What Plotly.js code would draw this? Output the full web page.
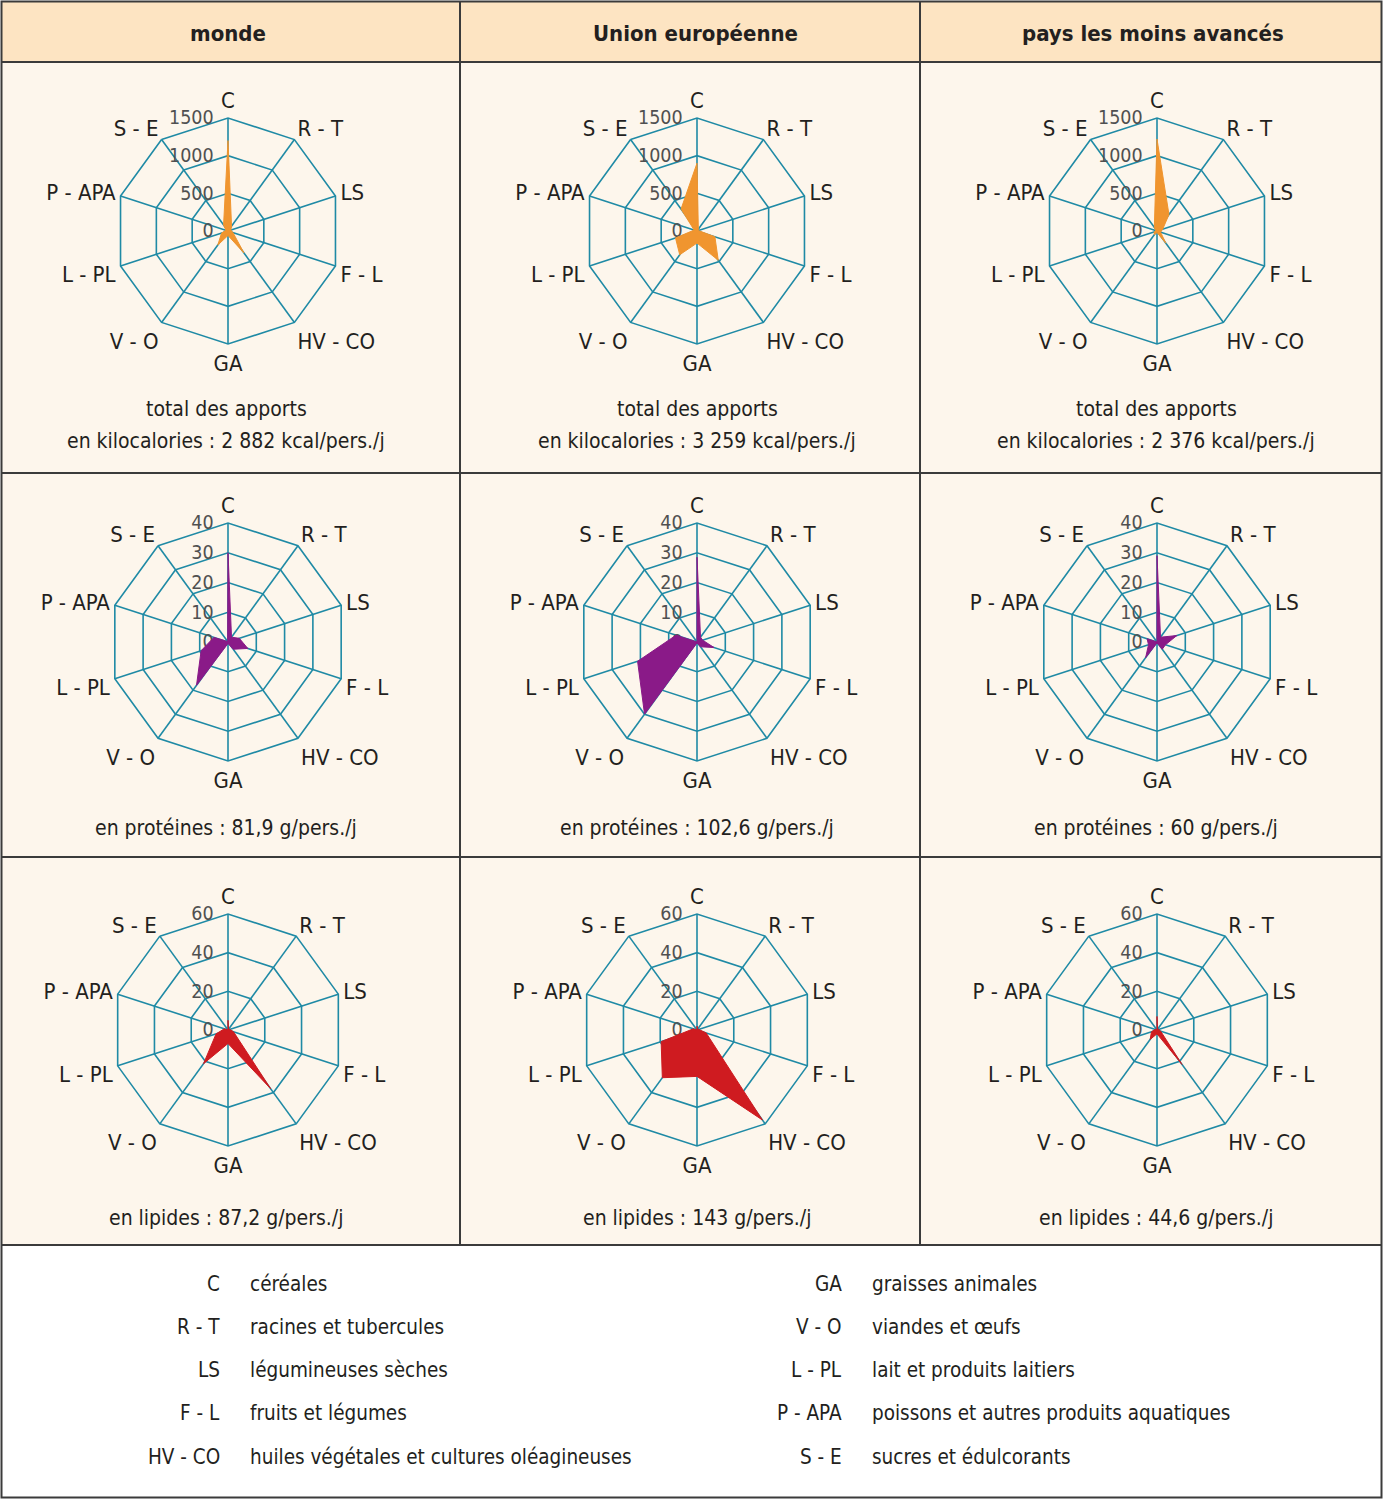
<!DOCTYPE html>
<html><head><meta charset="utf-8">
<script src="https://cdn.plot.ly/plotly-3.0.1.min.js"></script>
<style>html,body{margin:0;padding:0;background:#fff}#chart{width:1383px;height:1500px}</style>
</head><body><div id="chart"></div>
<script>
// ---------- DATA ----------
const categories = ['C','R - T','LS','F - L','HV - CO','GA','V - O','L - PL','P - APA','S - E'];
const regions = ['monde','Union européenne','pays les moins avancés'];

const kcalMonde = [1200, 80, 40, 70, 360, 60, 230, 90, 30, 100];
const kcalUE    = [900, 30, 20, 250, 480, 160, 390, 300, 40, 360];
const kcalPMA   = [1220, 270, 80, 50, 200, 20, 60, 40, 20, 60];

const protMonde = [30, 2, 4, 7, 3, 0.5, 18, 9.5, 5, 0.2];
const protUE    = [28.5, 2, 2, 6, 2, 0.3, 30, 21, 7.4, 0];
const protPMA   = [29, 2, 7, 3, 3, 0.3, 6.5, 3, 3.5, 0];

const lipMonde = [5, 0.5, 1, 3, 37.5, 7, 21.5, 6.5, 2, 0];
const lipUE    = [2, 0.5, 1, 5, 57.5, 24, 30.5, 19.5, 2, 0];
const lipPMA   = [7, 0.5, 1, 2, 22, 2, 6, 3, 1, 0];

const kcalTotals = ['2 882', '3 259', '2 376'];
const protTotals = ['81,9', '102,6', '60'];
const lipTotals  = ['87,2', '143', '44,6'];

const radialMax  = [1500, 40, 60];
const radialStep = [500, 10, 20];

const legendLeftAbbr  = ['C','R - T','LS','F - L','HV - CO'];
const legendLeftText  = ['céréales','racines et tubercules','légumineuses sèches','fruits et légumes','huiles végétales et cultures oléagineuses'];
const legendRightAbbr = ['GA','V - O','L - PL','P - APA','S - E'];
const legendRightText = ['graisses animales','viandes et œufs','lait et produits laitiers','poissons et autres produits aquatiques','sucres et édulcorants'];

// ---------- LAYOUT ----------
const W = 1383, H = 1500;
const FONT = '"DejaVu Sans Condensed","Liberation Sans Narrow","Roboto",sans-serif';
const TEXT = '#231f20';
const TEAL = '#1f8aa5';
const fx = x => x / W, fy = y => 1 - y / H;

const rowsData = [[kcalMonde, kcalUE, kcalPMA],[protMonde, protUE, protPMA],[lipMonde, lipUE, lipPMA]];
const rowColors = ['#f0952f', '#8a1a88', '#cf1b20'];
const colCx = [228, 697, 1157];
const rowCy = [231, 642, 1030];
const rowR  = [113, 119, 116];

const traces = [];
const layout = {
  width: W, height: H, margin: {l:0,r:0,t:0,b:0},
  paper_bgcolor: '#ffffff', showlegend: false,
  font: {family: FONT, color: TEXT},
  shapes: [], annotations: []
};

let idx = 0;
for (let r = 0; r < 3; r++) {
  for (let c = 0; c < 3; c++) {
    idx++;
    const key = idx === 1 ? 'polar' : 'polar' + idx;
    const vals = rowsData[r][c];
    traces.push({
      type: 'scatterpolar', subplot: key,
      r: vals.concat([vals[0]]), theta: categories.concat([categories[0]]),
      mode: 'lines', fill: 'toself', fillcolor: rowColors[r],
      line: {color: rowColors[r], width: 1}, hoverinfo: 'r+theta'
    });
    const cx = colCx[c], cy = rowCy[r], R = rowR[r];
    layout[key] = {
      domain: {x: [fx(cx - R), fx(cx + R)], y: [fy(cy + R), fy(cy - R)]},
      bgcolor: 'rgba(0,0,0,0)', gridshape: 'linear',
      angularaxis: {
        type: 'category', categoryorder: 'array', categoryarray: categories,
        rotation: 90, direction: 'clockwise',
        showline: true, linecolor: TEAL, linewidth: 1.6,
        gridcolor: TEAL, gridwidth: 1.6, ticks: '', layer: 'below traces',
        tickfont: {size: 22, family: FONT, color: TEXT}
      },
      radialaxis: {
        range: [0, radialMax[r]], dtick: radialStep[r], tick0: 0,
        angle: 90, side: 'counterclockwise', tickangle: 90,
        showline: false, ticks: 'outside', ticklen: 7, tickcolor: 'rgba(0,0,0,0)',
        gridcolor: TEAL, gridwidth: 1.6,
        layer: 'below traces',
        tickfont: {size: 19.5, family: FONT, color: '#505050'}
      }
    };
  }
}

// backgrounds & borders
const line = {color: '#3b3b3b', width: 2};
layout.shapes.push({type:'rect', xref:'paper', yref:'paper', x0:fx(2), x1:fx(1381), y0:fy(62), y1:fy(2), fillcolor:'#fde4c2', line:{width:0}, layer:'below'});
layout.shapes.push({type:'rect', xref:'paper', yref:'paper', x0:fx(2), x1:fx(1381), y0:fy(1245), y1:fy(62), fillcolor:'#fdf6ec', line:{width:0}, layer:'below'});
layout.shapes.push({type:'rect', xref:'paper', yref:'paper', x0:fx(1.5), x1:fx(1381.5), y0:fy(1497.5), y1:fy(1.5), line:line, fillcolor:'rgba(0,0,0,0)', layer:'above'});
[62, 473, 857, 1245].forEach(y => layout.shapes.push({type:'line', xref:'paper', yref:'paper', x0:fx(2), x1:fx(1381), y0:fy(y), y1:fy(y), line:line}));
[460, 920].forEach(x => layout.shapes.push({type:'line', xref:'paper', yref:'paper', x0:fx(x), x1:fx(x), y0:fy(1245), y1:fy(2), line:line}));

// headers
const colMid = [228, 695, 1153];
regions.forEach((t, i) => layout.annotations.push({
  xref:'paper', yref:'paper', x: fx(colMid[i]), y: fy(33), text: '<b>' + t + '</b>', showarrow:false,
  xanchor:'center', yanchor:'middle', font:{size:22, family:FONT, color:TEXT}
}));

// subtitles
const SUB = 21;
const subCx = [226, 697, 1156];
for (let c = 0; c < 3; c++) {
  layout.annotations.push({xref:'paper', yref:'paper', x:fx(subCx[c]), y:fy(409), text:'total des apports', showarrow:false, xanchor:'center', yanchor:'middle', font:{size:SUB}});
  layout.annotations.push({xref:'paper', yref:'paper', x:fx(subCx[c]), y:fy(441), text:'en kilocalories : ' + kcalTotals[c] + ' kcal/pers./j', showarrow:false, xanchor:'center', yanchor:'middle', font:{size:SUB}});
  layout.annotations.push({xref:'paper', yref:'paper', x:fx(subCx[c]), y:fy(828), text:'en protéines : ' + protTotals[c] + ' g/pers./j', showarrow:false, xanchor:'center', yanchor:'middle', font:{size:SUB}});
  layout.annotations.push({xref:'paper', yref:'paper', x:fx(subCx[c]), y:fy(1218), text:'en lipides : ' + lipTotals[c] + ' g/pers./j', showarrow:false, xanchor:'center', yanchor:'middle', font:{size:SUB}});
}

// legend
const LEG = 20.5;
const legY = [1284, 1327, 1370, 1413, 1457];
legY.forEach((y, i) => {
  layout.annotations.push({xref:'paper', yref:'paper', x:fx(222), y:fy(y), text:legendLeftAbbr[i], showarrow:false, xanchor:'right', yanchor:'middle', font:{size:LEG}});
  layout.annotations.push({xref:'paper', yref:'paper', x:fx(248), y:fy(y), text:legendLeftText[i], showarrow:false, xanchor:'left', yanchor:'middle', font:{size:LEG}});
  layout.annotations.push({xref:'paper', yref:'paper', x:fx(844), y:fy(y), text:legendRightAbbr[i], showarrow:false, xanchor:'right', yanchor:'middle', font:{size:LEG}});
  layout.annotations.push({xref:'paper', yref:'paper', x:fx(870), y:fy(y), text:legendRightText[i], showarrow:false, xanchor:'left', yanchor:'middle', font:{size:LEG}});
});

Plotly.newPlot('chart', traces, layout, {displayModeBar:false, staticPlot:true});
</script>
</body></html>
